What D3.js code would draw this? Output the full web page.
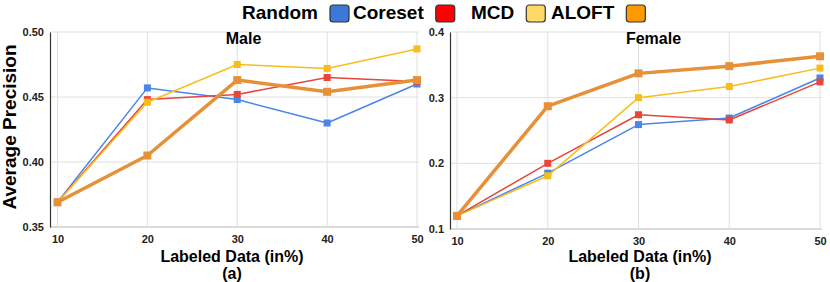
<!DOCTYPE html>
<html>
<head>
<meta charset="utf-8">
<script src="https://cdn.jsdelivr.net/npm/d3@7"></script>
<style>
  body { margin:0; background:#fff; }
  svg { font-family: "Liberation Sans", Arial, sans-serif; }
</style>
</head>
<body>
<div id="chart"></div>
<script>
// data
var labeled = [10, 20, 30, 40, 50];
var methods = ['Random', 'Coreset', 'MCD', 'ALOFT'];
var maleRandom  = [0.369, 0.457, 0.448, 0.430, 0.460];
var maleCoreset = [0.369, 0.448, 0.452, 0.465, 0.462];
var maleMCD     = [0.369, 0.446, 0.475, 0.472, 0.487];
var maleALOFT   = [0.369, 0.405, 0.463, 0.454, 0.463];
var femRandom   = [0.120, 0.185, 0.259, 0.269, 0.330];
var femCoreset  = [0.120, 0.200, 0.274, 0.266, 0.324];
var femMCD      = [0.120, 0.181, 0.300, 0.317, 0.345];
var femALOFT    = [0.120, 0.287, 0.337, 0.348, 0.363];
var maleTicks = [0.35, 0.40, 0.45, 0.50];
var femTicks  = [0.1, 0.2, 0.3, 0.4];

var lineColor = {Random:'#4a86e8', Coreset:'#e8453c', MCD:'#f7be1b', ALOFT:'#e69138'};
var swatchColor = {Random:'#3c78d8', Coreset:'#ff0000', MCD:'#ffd966', ALOFT:'#ff9900'};

var width = 830, height = 282;
var svg = d3.select('#chart').append('svg')
  .attr('width', width).attr('height', height);

// legend: label then swatch
var legendX = [242, 353, 471, 551];
var leg = svg.append('g');
methods.forEach(function(m, i){
  var t = leg.append('text')
    .attr('x', legendX[i]).attr('y', 19)
    .attr('font-size', '19px').attr('font-weight', 'bold')
    .attr('fill', '#000')
    .text(m);
  var w = t.node().getComputedTextLength();
  leg.append('rect')
    .attr('x', legendX[i] + w + 12).attr('y', 5)
    .attr('width', 19).attr('height', 17)
    .attr('rx', 3)
    .attr('fill', swatchColor[m])
    .attr('stroke', '#333').attr('stroke-width', 1.2);
});

// y axis title
svg.append('text')
  .attr('transform', 'translate(16,127) rotate(-90)')
  .attr('text-anchor', 'middle')
  .attr('font-size', '19px').attr('font-weight', 'bold')
  .text('Average Precision');

function drawPanel(opt){
  var g = svg.append('g');
  var x = d3.scaleLinear().domain([10, 50]).range([opt.x0, opt.x1]);
  var y = d3.scaleLinear().domain(opt.yDomain).range([opt.yBottom, opt.yTop]);

  // gridlines
  g.selectAll('.hgrid').data(opt.ticks).enter().append('line')
    .attr('x1', opt.axisX).attr('x2', opt.x1 + 2)
    .attr('y1', function(d){ return y(d); })
    .attr('y2', function(d){ return y(d); })
    .attr('stroke', function(d,i){ return i == 0 ? '#cfcfcf' : '#e0e0e0'; })
    .attr('stroke-width', function(d,i){ return i == 0 ? 1.5 : 1; });
  g.selectAll('.vgrid').data(labeled).enter().append('line')
    .attr('x1', function(d){ return x(d); })
    .attr('x2', function(d){ return x(d); })
    .attr('y1', opt.yTop).attr('y2', opt.yBottom)
    .attr('stroke', '#e0e0e0').attr('stroke-width', 1);

  // y axis
  var yAxis = d3.axisLeft(y).tickValues(opt.ticks).tickSize(0).tickPadding(6)
    .tickFormat(d3.format(opt.fmt));
  var ya = g.append('g').attr('transform', 'translate(' + opt.axisX + ',0)').call(yAxis);
  ya.select('.domain').attr('stroke', '#333').attr('stroke-width', 1.2);
  ya.selectAll('text').attr('font-size', '11px').attr('font-weight', 'bold')
    .attr('fill', '#222').attr('font-family', '"Liberation Sans", Arial, sans-serif');

  // x axis labels
  var xAxis = d3.axisBottom(x).tickValues(labeled).tickSize(0).tickPadding(8);
  var xa = g.append('g').attr('transform', 'translate(0,' + opt.yBottom + ')').call(xAxis);
  xa.select('.domain').remove();
  xa.selectAll('text').attr('font-size', '11px').attr('font-weight', 'bold')
    .attr('fill', '#222').attr('font-family', '"Liberation Sans", Arial, sans-serif');

  // title
  g.append('text').attr('x', opt.titleX).attr('y', 44)
    .attr('text-anchor', 'middle').attr('font-size', '16px').attr('font-weight', 'bold')
    .text(opt.title);

  // x title and caption
  g.append('text').attr('x', opt.labelX).attr('y', 262)
    .attr('text-anchor', 'middle').attr('font-size', '16px').attr('font-weight', 'bold')
    .text('Labeled Data (in%)');
  g.append('text').attr('x', opt.labelX).attr('y', 279)
    .attr('text-anchor', 'middle').attr('font-size', '16px').attr('font-weight', 'bold')
    .text(opt.caption);

  var line = d3.line()
    .x(function(d, i){ return x(labeled[i]); })
    .y(function(d){ return y(d); });

  opt.series.forEach(function(s){
    var thick = s.name == 'ALOFT';
    g.append('path').datum(s.values)
      .attr('d', line)
      .attr('fill', 'none')
      .attr('stroke', lineColor[s.name])
      .attr('stroke-width', thick ? 3.5 : 1.5)
      .attr('stroke-linejoin', 'round');
    var ms = thick ? 8 : 7;
    g.selectAll('.m' + s.name).data(s.values).enter().append('rect')
      .attr('x', function(d, i){ return x(labeled[i]) - ms/2; })
      .attr('y', function(d){ return y(d) - ms/2; })
      .attr('width', ms).attr('height', ms)
      .attr('fill', lineColor[s.name]);
  });
}

drawPanel({
  x0: 57.5, x1: 417, axisX: 50, yTop: 32, yBottom: 227,
  yDomain: [0.35, 0.50], ticks: maleTicks, fmt: '.2f',
  title: 'Male', titleX: 243.5, labelX: 232, caption: '(a)',
  series: [
    {name:'Random', values: maleRandom},
    {name:'Coreset', values: maleCoreset},
    {name:'MCD', values: maleMCD},
    {name:'ALOFT', values: maleALOFT}
  ]
});

drawPanel({
  x0: 457, x1: 820, axisX: 450, yTop: 32, yBottom: 229,
  yDomain: [0.1, 0.4], ticks: femTicks, fmt: '.1f',
  title: 'Female', titleX: 653.5, labelX: 640, caption: '(b)',
  series: [
    {name:'Random', values: femRandom},
    {name:'Coreset', values: femCoreset},
    {name:'MCD', values: femMCD},
    {name:'ALOFT', values: femALOFT}
  ]
});
</script>
</body>
</html>
